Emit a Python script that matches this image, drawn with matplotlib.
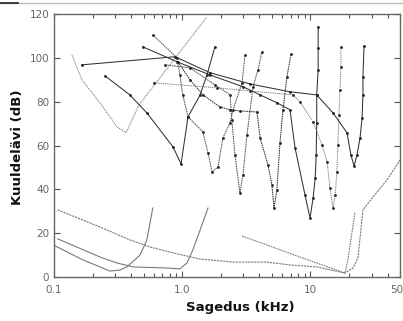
import matplotlib
matplotlib.use("Agg")
import matplotlib.pyplot as plt
from matplotlib.lines import Line2D
from matplotlib.ticker import FixedLocator, NullFormatter
from matplotlib.transforms import ScaledTranslation

# ---- tuning curves (frequency kHz, threshold dB) ----
t1_f = [0.138, 0.165, 0.205, 0.245, 0.31, 0.365, 0.46, 0.847, 1.56]
t1_d = [101.4, 90, 83, 77, 68.5, 65.8, 78.5, 98.6, 118.7]

t2_f = [0.25, 0.39, 0.53, 0.847, 0.98, 1.11, 1.38, 1.56, 1.80]
t2_d = [91.8, 83.1, 74.9, 59.4, 51.6, 73.1, 83.1, 92.2, 105.0]

t3_f = [0.59, 0.91, 0.96, 1.01, 1.11, 1.45, 1.59, 1.71, 1.90, 2.08, 2.36, 2.49, 2.93, 3.09]
t3_d = [110.5, 100, 92.2, 83.1, 73.1, 66.2, 56.6, 47.9, 50.2, 63.5, 70.3, 76.3, 88.6, 101.4]

t4_f = [0.735, 1.15, 1.80, 2.36, 2.44, 2.58, 2.82, 2.98, 3.20, 3.57, 3.90, 4.19]
t4_d = [96.8, 95.4, 87.7, 83.1, 71.7, 55.7, 38.4, 46.6, 64.8, 86.8, 94.5, 102.7]

t5_f = [0.927, 1.15, 1.45, 1.97, 2.36, 2.82, 3.83, 4.05, 4.67, 5.01, 5.20, 5.48, 5.79, 6.11, 6.56, 7.06]
t5_d = [98.2, 90.0, 83.1, 77.6, 76.3, 75.8, 75.3, 63.5, 51.1, 42.0, 31.5, 39.7, 61.2, 76.3, 91.3, 101.8]

t6_f = [0.494, 0.91, 1.65, 2.98, 4.05, 5.48, 6.93, 7.59, 9.08, 9.93, 10.5, 10.9, 11.1, 11.2, 11.2, 11.5, 11.5, 11.5]
t6_d = [105, 98.2, 92.2, 86.8, 83.1, 79.5, 76.3, 58.9, 37.4, 26.9, 36.1, 45.2, 55.7, 70.3, 83.1, 94.5, 104.6, 114.2]

t7_f = [0.60, 1.87, 3.38, 7.31, 8.30, 10.5, 12.3, 13.5, 14.2, 15.0, 15.6, 16.1, 16.4, 16.7, 17.0, 17.3, 17.3]
t7_d = [88.6, 86.3, 84.9, 83.1, 79.9, 70.8, 60.3, 52.5, 40.6, 31.5, 37.4, 47.9, 60.3, 74.0, 85.4, 95.9, 105.0]

t8_f = [0.165, 0.88, 1.65, 3.38, 6.93, 11.2, 15.0, 19.3, 20.7, 21.9, 23.1, 24.4, 25.3, 25.7, 25.7, 26.2]
t8_d = [96.8, 100.5, 93.2, 88.1, 84.5, 83.1, 74.9, 65.8, 55.7, 50.7, 55.7, 63.5, 72.6, 83.1, 91.3, 105.5]

# ---- behavioural thresholds (bottom) ----
l1_f = [0.107, 0.229, 0.392, 0.561, 0.847, 1.38, 2.49, 4.58, 6.93, 11.2, 17.0, 18.6, 21.5, 23.5, 25.7, 30.8, 39.6, 50]
l1_d = [30.6, 22.8, 16.9, 13.7, 11.0, 8.2, 6.8, 6.8, 5.5, 4.6, 2.3, 1.8, 4.1, 8.7, 30.6, 36.5, 44.3, 53.4]

l2_f = [0.107, 0.229, 0.31, 0.414, 0.76, 0.96, 1.09, 1.21, 1.38, 1.59]
l2_d = [17.4, 9.1, 6.4, 4.6, 4.1, 3.7, 6.4, 12.3, 21.5, 31.5]

l3_f = [0.102, 0.168, 0.229, 0.273, 0.327, 0.371, 0.469, 0.53, 0.59]
l3_d = [14.2, 7.8, 4.6, 2.7, 3.2, 4.6, 10.0, 16.9, 31.5]

l4_f = [2.93, 4.58, 8.3, 18.6, 19.6, 22.3]
l4_d = [18.7, 14.6, 9.1, 1.8, 7.8, 29.7]

x_ticks = [0.1, 1.0, 10, 50]
x_tick_labels = ["0.1", "1.0", "10", "50"]
y_ticks = [0, 20, 40, 60, 80, 100, 120]

fig = plt.figure(figsize=(4.03, 3.21), dpi=100)
ax = fig.add_axes([54/403, 1-277/321, 346/403, 263/321])

dark = "#333333"
mid = "#555555"
light = "#7a7a7a"

def tc(f, d, color, ls="-", ms=2.0, lw=0.75):
    ax.plot(f, d, color=color, linestyle=ls, linewidth=lw, marker="o",
            markersize=ms, markeredgewidth=0, markerfacecolor="#222222", zorder=3)

tc(t1_f, t1_d, light, ls=(0, (1, 0.8)), ms=0)
tc(t2_f, t2_d, dark)
tc(t3_f, t3_d, mid, ls=(0, (1.5, 0.7)))
tc(t4_f, t4_d, mid, ls=(0, (1.5, 0.7)))
tc(t5_f, t5_d, dark, ls=(0, (1.5, 0.7)))
tc(t6_f, t6_d, dark)
tc(t7_f, t7_d, light, ls=(0, (1, 0.8)))
tc(t8_f, t8_d, dark)

ax.plot(l1_f, l1_d, color=light, linestyle=(0, (2, 0.8)), linewidth=0.8)
ax.plot(l2_f, l2_d, color=light, linestyle="-", linewidth=0.8)
ax.plot(l3_f, l3_d, color=light, linestyle="-", linewidth=0.8)
ax.plot(l4_f, l4_d, color=light, linestyle=(0, (1.5, 0.8)), linewidth=0.8)

ax.set_xscale("log")
ax.set_xlim(0.1, 50)
ax.set_ylim(0, 120)
ax.xaxis.set_major_locator(FixedLocator(x_ticks))
ax.set_xticklabels(x_tick_labels)
minor = [m * 10.0 ** e for e in (-1, 0, 1) for m in range(2, 10) if m * 10.0 ** e < 50]
ax.xaxis.set_minor_locator(FixedLocator(minor))
ax.xaxis.set_minor_formatter(NullFormatter())
ax.set_yticks(y_ticks)

for s in ax.spines.values():
    s.set_color("#666666")
    s.set_linewidth(1.0)
ax.tick_params(which="both", direction="in", top=True, right=True,
               colors="#555555", labelcolor="#666666", labelsize=7.5, width=0.8)
ax.tick_params(which="major", length=4)
ax.tick_params(which="minor", length=3)
ax.tick_params(axis="x", pad=6)

last = ax.get_xticklabels()[-1]
last.set_transform(last.get_transform() + ScaledTranslation(-3/100, 0, fig.dpi_scale_trans))

fig.text(18/403, 1-147/321, "Kuuldelävi (dB)", rotation=90, ha="center", va="center",
         fontsize=9.5, fontweight="bold", color="#111111")
fig.text(240/403, 1-308/321, "Sagedus (kHz)", ha="center", va="center",
         fontsize=9.5, fontweight="bold", color="#111111")

fig.add_artist(Line2D([0, 1], [1-3/321, 1-3/321], color="#bbbbbb", linewidth=1.0,
                      transform=fig.transFigure))
fig.add_artist(Line2D([0, 18/403], [1-3/321, 1-3/321], color="#222222", linewidth=1.2,
                      transform=fig.transFigure))

fig.savefig("out.png", dpi=100)
